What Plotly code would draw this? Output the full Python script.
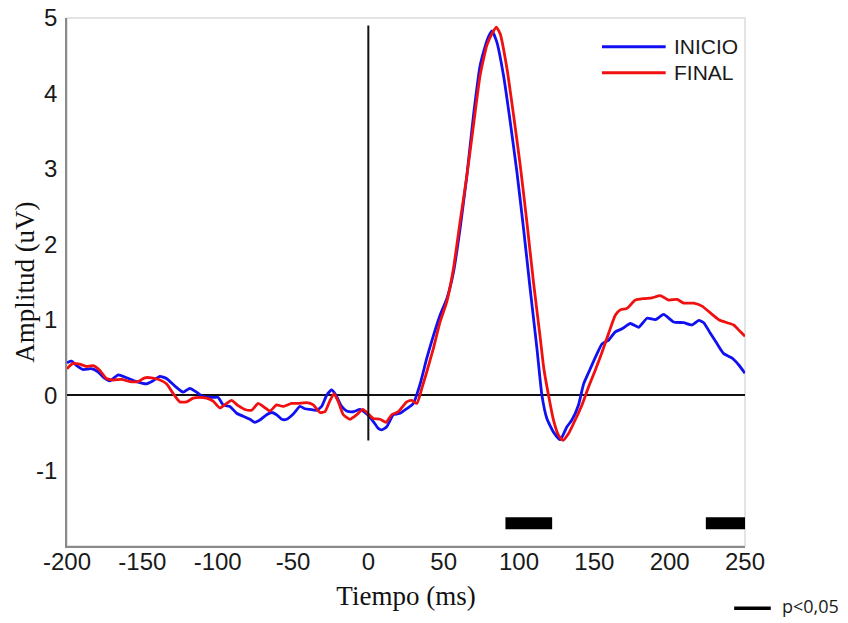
import plotly.graph_objects as go

# ---------------- data ----------------
series_names = ["INICIO", "FINAL"]
series_colors = ["#1010f0", "#f01010"]

time_inicio = [-200, -197, -194, -189.4, -183.9, -179.5, -176, -171.6, -166, -160.5, -153.9, -147.2,
               -142.8, -138.4, -134, -128.4, -122.9, -118.5, -114, -109.6, -103, -99.7, -96.3, -91.9,
               -87.4, -83, -78.6, -75.3, -72, -67.5, -64.2, -60.9, -57.5, -54.2, -49.8, -45.4, -42.1,
               -38.7, -34.3, -31, -27.6, -24.3, -21.5, -17.7, -14.4, -10, -5.5, -1.1, 3.3, 6.6, 8.9,
               12.2, 16.6, 21.1, 25.5, 29.9, 34.4, 38.8, 43.2, 47.6, 52.1, 56.5, 60.9, 65.4, 69.8,
               74.2, 78.7, 82, 85.3, 89.7, 94.2, 98.6, 103, 107.4, 111.9, 115.2, 118.5, 122.9, 127.4,
               131.8, 135.1, 139.5, 142.9, 147.3, 151.8, 155.1, 159.5, 163.9, 168.4, 173.9, 179.4,
               185, 190.5, 196, 202.7, 209.3, 214.9, 219.3, 222.6, 227, 231.5, 235.9, 241.5, 245.9, 250]
amp_inicio = [0.43, 0.45, 0.40, 0.34, 0.35, 0.31, 0.24, 0.19, 0.27, 0.23, 0.18, 0.15,
              0.19, 0.25, 0.22, 0.12, 0.04, 0.09, 0.04, -0.02, -0.03, -0.03, -0.13, -0.15,
              -0.24, -0.28, -0.32, -0.36, -0.33, -0.26, -0.23, -0.26, -0.32, -0.32, -0.25, -0.15, -0.18,
              -0.19, -0.20, -0.15, 0.0, 0.07, 0.0, -0.15, -0.21, -0.22, -0.19, -0.25, -0.35, -0.44, -0.46,
              -0.42, -0.26, -0.24, -0.18, -0.11, 0.15, 0.49, 0.79, 1.06, 1.28, 1.63, 2.21, 2.91, 3.71,
              4.37, 4.70, 4.83, 4.68, 4.24, 3.62, 2.96, 2.21, 1.41, 0.62, 0.0, -0.31, -0.49, -0.59,
              -0.42, -0.33, -0.13, 0.15, 0.35, 0.55, 0.68, 0.73, 0.84, 0.88, 0.95, 0.90,
              1.02, 1.00, 1.07, 0.97, 0.96, 0.93, 0.99, 0.96, 0.82, 0.68, 0.55, 0.49, 0.40, 0.29]

time_final = [-200, -196, -191.6, -187, -182.7, -178.3, -173.8, -169.4, -163.9, -158.3, -152.8, -148.4,
              -143.9, -139.5, -134, -129.5, -125.1, -120.7, -116.3, -111.8, -107.4, -103, -98.5, -94.1,
              -90.8, -86.4, -81.9, -77.5, -73.1, -69.8, -65.3, -60.9, -56.5, -50.9, -46.5, -40.9, -36.5,
              -32.1, -28.8, -25.4, -22.8, -19.9, -16.6, -12.2, -7.7, -3.7, 0, 3.3, 7.8, 11.8, 15.5,
              19.9, 25.5, 28.8, 32.2, 35.5, 38.8, 43.2, 47.6, 52.1, 56.5, 60.9, 65.4, 69.8, 74.2,
              78.7, 82, 84.9, 87.5, 92, 96.4, 100.8, 105.2, 109.6, 114.1, 116.5, 119.6, 122.9, 126.2,
              129.2, 132.9, 137.3, 141.8, 146.2, 150.6, 155.1, 159.5, 163.9, 167.2, 171.7, 177.2,
              182.7, 188.3, 193.8, 199.3, 204.9, 209.3, 216, 221.5, 227, 232.6, 238.1, 242.5, 247, 250]
amp_final = [0.35, 0.42, 0.41, 0.38, 0.39, 0.33, 0.22, 0.20, 0.21, 0.18, 0.18, 0.23,
             0.23, 0.21, 0.15, 0.02, -0.09, -0.09, -0.04, -0.03, -0.04, -0.08, -0.17, -0.11,
             -0.07, -0.14, -0.19, -0.20, -0.11, -0.15, -0.21, -0.13, -0.15, -0.11, -0.11, -0.10, -0.13,
             -0.23, -0.22, -0.07, 0.02, -0.09, -0.26, -0.32, -0.26, -0.19, -0.25, -0.31, -0.32, -0.36, -0.26,
             -0.22, -0.09, -0.07, -0.11, 0.09, 0.31, 0.62, 0.97, 1.24, 1.68, 2.30, 2.91, 3.58, 4.24,
             4.64, 4.79, 4.88, 4.79, 4.33, 3.71, 3.05, 2.30, 1.50, 0.76, 0.35, 0.0, -0.33, -0.53,
             -0.60, -0.51, -0.33, -0.13, 0.11, 0.33, 0.57, 0.82, 1.06, 1.13, 1.15, 1.26,
             1.28, 1.29, 1.32, 1.26, 1.27, 1.22, 1.22, 1.18, 1.09, 1.00, 0.96, 0.93, 0.84, 0.78]

# significant intervals (ms) and the level they are drawn at
sig_start = [91, 224]
sig_end = [122, 254]
sig_level = -1.7
sig_label = "p<0,05"

x_ticks = [-200, -150, -100, -50, 0, 50, 100, 150, 200, 250]
x_ticklabels = ["-200", "-150", "-100", "-50", "0", "50", "100", "150", "200", "250"]
y_ticks = [-1, 0, 1, 2, 3, 4, 5]
y_ticklabels = ["-1", "0", "1", "2", "3", "4", "5"]
x_range = [-200, 250]
y_range = [-2, 5]
stim_line_y = [-0.6, 4.9]   # extent of the vertical line at t = 0

x_title = "Tiempo (ms)"
y_title = "Amplitud (uV)"

# ---------------- figure ----------------
fig = go.Figure()

fig.add_trace(go.Scatter(x=time_inicio, y=amp_inicio, mode="lines", name=series_names[0],
                         line=dict(color=series_colors[0], width=2.8, shape="spline", smoothing=0.5),
                         showlegend=False))
fig.add_trace(go.Scatter(x=time_final, y=amp_final, mode="lines", name=series_names[1],
                         line=dict(color=series_colors[1], width=2.8, shape="spline", smoothing=0.5),
                         showlegend=False))

# significance bars
sig_x, sig_y = [], []
for s, e in zip(sig_start, sig_end):
    sig_x += [s, e, None]
    sig_y += [sig_level, sig_level, None]
fig.add_trace(go.Scatter(x=sig_x, y=sig_y, mode="lines", line=dict(color="black", width=12),
                         showlegend=False, hoverinfo="skip"))

# vertical line at stimulus onset
fig.add_shape(type="line", xref="x", yref="y", x0=0, x1=0, y0=stim_line_y[0], y1=stim_line_y[1],
              line=dict(color="#111111", width=2))

# light box (top/right)
fig.add_shape(type="rect", xref="paper", yref="paper", x0=0, x1=1, y0=0, y1=1,
              line=dict(color="#dcdcdc", width=1.5), layer="below")

# custom legend
legend_y = [0.9456, 0.8964]
for name, col, ly in zip(series_names, series_colors, legend_y):
    fig.add_shape(type="line", xref="paper", yref="paper", x0=0.789, x1=0.883, y0=ly, y1=ly,
                  line=dict(color=col, width=3))
    fig.add_annotation(xref="paper", yref="paper", x=0.893, y=ly, text=name, showarrow=False,
                       xanchor="left", yanchor="middle",
                       font=dict(family="Liberation Sans, Arial", size=21, color="#1a1a1a"))

# p<0,05 key (below the plot, bottom right)
fig.add_shape(type="line", xref="paper", yref="paper", x0=0.984, x1=1.038, y0=-0.118, y1=-0.118,
              line=dict(color="black", width=3.5))
fig.add_annotation(xref="paper", yref="paper", x=1.052, y=-0.114, text=sig_label, showarrow=False,
                   xanchor="left", yanchor="middle",
                   font=dict(family="Open Sans, Noto Sans", size=18, color="#1a1a1a"))

# y-axis title
fig.add_annotation(xref="paper", yref="paper", x=-0.0625, y=0.5, text=y_title, showarrow=False,
                   textangle=-90, xanchor="center", yanchor="middle",
                   font=dict(family="Liberation Serif, Times New Roman", size=27, color="#111111"))

fig.update_layout(
    width=848, height=623,
    margin=dict(l=67, r=103, t=18, b=77, autoexpand=False),
    paper_bgcolor="white", plot_bgcolor="white",
    font=dict(family="Liberation Sans, Arial", color="#1a1a1a"),
    showlegend=False,
)
fig.update_xaxes(range=x_range, tickvals=x_ticks, ticktext=x_ticklabels, showgrid=False, zeroline=False,
                 showline=True, linecolor="#8a8a8a", linewidth=1.5, automargin=False,
                 ticks="", ticklabelstandoff=-7,
                 tickfont=dict(family="Liberation Sans, Arial", size=24, color="#1a1a1a"),
                 title=dict(text=x_title, standoff=13,
                            font=dict(family="Liberation Serif, Times New Roman", size=27, color="#111111")))
fig.update_yaxes(range=y_range, tickvals=y_ticks, ticktext=y_ticklabels, showgrid=False,
                 zeroline=True, zerolinecolor="#111111", zerolinewidth=2,
                 showline=True, linecolor="#8a8a8a", linewidth=1.5, automargin=False,
                 ticks="outside", ticklen=3, tickcolor="rgba(0,0,0,0)",
                 tickfont=dict(family="Liberation Sans, Arial", size=24, color="#1a1a1a"))

fig.write_html("out.html")
